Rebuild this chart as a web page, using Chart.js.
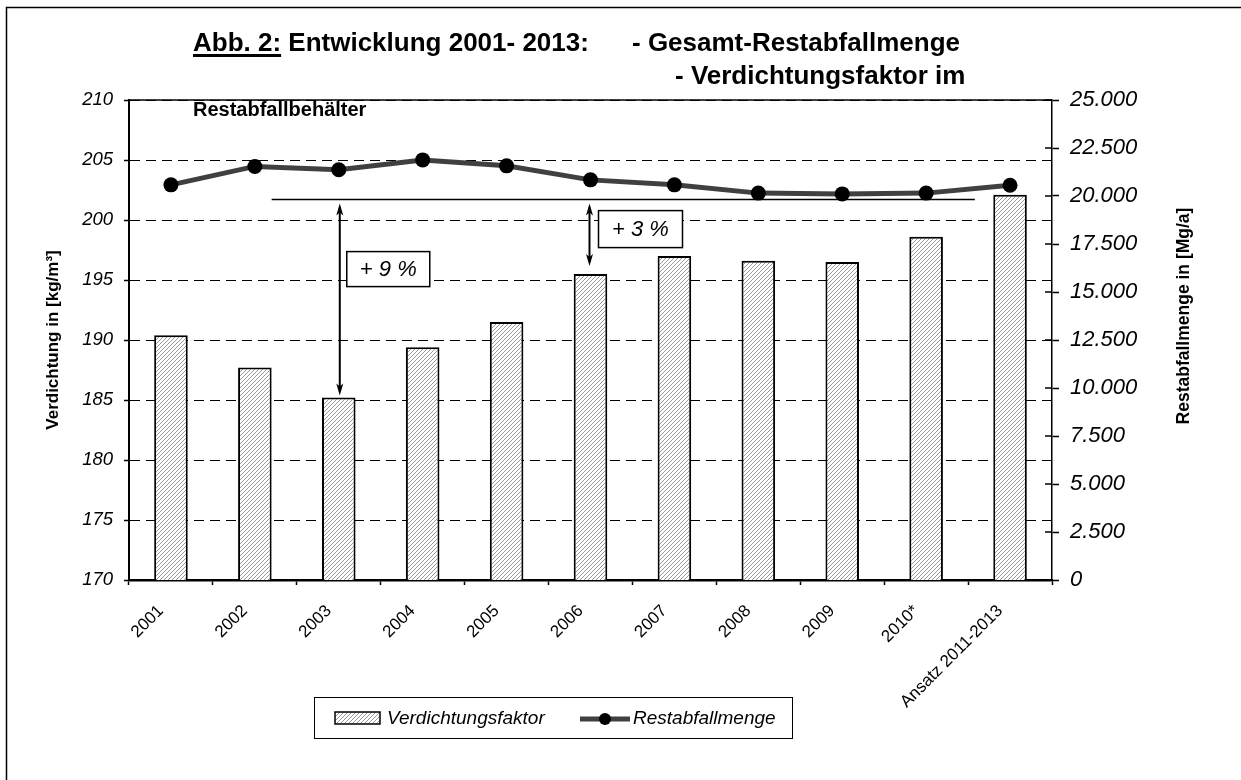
<!DOCTYPE html>
<html>
<head>
<meta charset="utf-8">
<script src="https://cdn.jsdelivr.net/npm/chart.js@4.4.1/dist/chart.umd.min.js"></script>
<style>
  html, body { margin: 0; padding: 0; background: #fff; }
  #wrap { width: 1241px; height: 780px; }
</style>
</head>
<body>
<div id="wrap"><canvas id="chart" width="1241" height="780"></canvas></div>
<script>
const FONT = "'Liberation Sans', Arial, Helvetica, sans-serif"

// categories on the x axis
const years = ['2001', '2002', '2003', '2004', '2005', '2006', '2007', '2008', '2009', '2010*', 'Ansatz 2011-2013']
// Verdichtungsfaktor in kg/m³ (left axis, bars)
const verdichtung = [190.4, 187.7, 185.2, 189.4, 191.5, 195.5, 197.0, 196.6, 196.5, 198.6, 202.1]
// Restabfallmenge in Mg/a (right axis, line)
const restabfall = [20580, 21540, 21370, 21880, 21570, 20840, 20580, 20150, 20110, 20150, 20560]
// axis ranges
const leftRange = [170, 210, 5]
const rightRange = [0, 25000, 2500]
// reference level for the arrows, in kg/m³
const refLevel = 201.7

function deNum(v) {
  return String(v).replace(/\B(?=(\d{3})+(?!\d))/g, '.')
}

// hatch fill like the excel pattern
function makeHatch() {
  const c = document.createElement('canvas')
  c.width = 4; c.height = 4
  const g = c.getContext('2d')
  g.fillStyle = '#fff'
  g.fillRect(0, 0, 4, 4)
  g.strokeStyle = '#9a9a9a'
  g.lineWidth = 1
  g.beginPath()
  g.moveTo(0, 4); g.lineTo(4, 0)
  g.moveTo(-1, 1); g.lineTo(1, -1)
  g.moveTo(3, 5); g.lineTo(5, 3)
  g.stroke()
  return g.createPattern(c, 'repeat')
}
const hatch = makeHatch()

function arrow(ctx, x, y1, y2) {
  const hl = 12, hw = 3.5
  ctx.save()
  ctx.strokeStyle = '#000'
  ctx.fillStyle = '#000'
  ctx.lineWidth = 2
  ctx.beginPath()
  ctx.moveTo(x, y1 + 4); ctx.lineTo(x, y2 - 4)
  ctx.stroke()
  ctx.beginPath()
  ctx.moveTo(x, y1); ctx.lineTo(x - hw, y1 + hl); ctx.lineTo(x, y1 + hl - 3); ctx.lineTo(x + hw, y1 + hl)
  ctx.closePath(); ctx.fill()
  ctx.beginPath()
  ctx.moveTo(x, y2); ctx.lineTo(x - hw, y2 - hl); ctx.lineTo(x, y2 - hl + 3); ctx.lineTo(x + hw, y2 - hl)
  ctx.closePath(); ctx.fill()
  ctx.restore()
}

function labelBox(ctx, x, y, w, h, text) {
  ctx.save()
  ctx.fillStyle = '#fff'
  ctx.fillRect(x, y, w, h)
  ctx.strokeStyle = '#000'
  ctx.lineWidth = 1.5
  ctx.strokeRect(x, y, w, h)
  ctx.fillStyle = '#000'
  ctx.font = 'italic 22px ' + FONT
  ctx.textAlign = 'center'
  ctx.textBaseline = 'middle'
  ctx.fillText(text, x + w / 2, y + h / 2 + 1)
  ctx.restore()
}

const framePlugin = {
  id: 'frame',
  beforeDraw(chart) {
    const ctx = chart.ctx
    ctx.save()
    ctx.fillStyle = '#fff'
    ctx.fillRect(0, 0, chart.width, chart.height)
    ctx.strokeStyle = '#000'
    ctx.lineWidth = 1.5
    ctx.beginPath()
    ctx.moveTo(6.5, chart.height); ctx.lineTo(6.5, 7.5); ctx.lineTo(chart.width, 7.5)
    ctx.stroke()
    ctx.restore()
  },
  afterDraw(chart) {
    const ctx = chart.ctx
    const area = chart.chartArea
    const xs = chart.scales.x, ys = chart.scales.y, y1 = chart.scales.y1

    ctx.save()
    // top border of the plot
    ctx.strokeStyle = '#000'
    ctx.lineWidth = 1.5
    ctx.beginPath()
    ctx.moveTo(area.left, area.top); ctx.lineTo(area.right, area.top)
    ctx.stroke()
    // inner tick marks on the right axis
    ctx.lineWidth = 1.5
    y1.ticks.forEach((t) => {
      const py = y1.getPixelForValue(t.value)
      ctx.beginPath(); ctx.moveTo(area.right - 7, py); ctx.lineTo(area.right, py); ctx.stroke()
    })

    // title
    ctx.fillStyle = '#000'
    ctx.textBaseline = 'alphabetic'
    ctx.textAlign = 'left'
    ctx.font = 'bold 26px ' + FONT
    const abb = 'Abb. 2:'
    ctx.fillText(abb, 193, 51)
    const wAbb = ctx.measureText(abb).width
    ctx.fillRect(193, 54, wAbb, 3)
    ctx.fillText(' Entwicklung 2001- 2013:', 193 + wAbb, 51)
    ctx.fillText('- Gesamt-Restabfallmenge', 632, 51)
    ctx.fillText('- Verdichtungsfaktor im', 675, 84)
    ctx.font = 'bold 20px ' + FONT
    ctx.fillText('Restabfallbehälter', 193, 116)

    // axis titles
    ctx.font = 'bold 17px ' + FONT
    ctx.textAlign = 'center'
    ctx.textBaseline = 'middle'
    ctx.save()
    ctx.translate(53, (area.top + area.bottom) / 2)
    ctx.rotate(-Math.PI / 2)
    ctx.fillText('Verdichtung in [kg/m³]', 0, 0)
    ctx.restore()
    ctx.save()
    ctx.translate(1184, 316)
    ctx.rotate(-Math.PI / 2)
    ctx.font = 'bold 17.5px ' + FONT
    ctx.fillText('Restabfallmenge in [Mg/a]', 0, 0)
    ctx.restore()

    // reference line and arrows
    const cw = xs.getPixelForValue(1) - xs.getPixelForValue(0)
    const ly = ys.getPixelForValue(refLevel)
    ctx.lineWidth = 1.5
    ctx.beginPath()
    ctx.moveTo(xs.getPixelForValue(1) + 0.2 * cw, ly)
    ctx.lineTo(xs.getPixelForValue(9) + 0.58 * cw, ly)
    ctx.stroke()

    const a1 = xs.getPixelForValue(2) + 1
    arrow(ctx, a1, ly + 4, ys.getPixelForValue(verdichtung[2]) - 2)
    labelBox(ctx, a1 + 7, ly + 52, 83, 35, '+ 9 %')
    const a2 = xs.getPixelForValue(5) - 1
    arrow(ctx, a2, ly + 4, ys.getPixelForValue(verdichtung[5]) - 8)
    labelBox(ctx, a2 + 9, ly + 11, 84, 37, '+ 3 %')

    // legend
    ctx.strokeStyle = '#000'
    ctx.lineWidth = 1
    ctx.strokeRect(314.5, 697.5, 478, 41)
    ctx.fillStyle = hatch
    ctx.fillRect(335, 712, 45, 12)
    ctx.lineWidth = 1.5
    ctx.strokeRect(335, 712, 45, 12)
    ctx.fillStyle = '#000'
    ctx.font = 'italic 19px ' + FONT
    ctx.textAlign = 'left'
    ctx.textBaseline = 'middle'
    ctx.fillText('Verdichtungsfaktor', 387, 719)
    ctx.strokeStyle = '#404040'
    ctx.lineWidth = 5
    ctx.beginPath(); ctx.moveTo(580, 719); ctx.lineTo(630, 719); ctx.stroke()
    ctx.beginPath(); ctx.arc(605, 719, 6, 0, Math.PI * 2); ctx.fill()
    ctx.fillText('Restabfallmenge', 633, 719)
    ctx.restore()
  }
}

const chartConfig = {
  type: 'bar',
  data: {
    labels: years,
    datasets: [
      {
        type: 'line',
        label: 'Restabfallmenge',
        data: restabfall,
        yAxisID: 'y1',
        borderColor: '#404040',
        borderWidth: 5,
        pointRadius: 7.5,
        pointBackgroundColor: '#000',
        pointBorderWidth: 0,
        tension: 0,
        order: 1
      },
      {
        type: 'bar',
        label: 'Verdichtungsfaktor',
        data: verdichtung,
        yAxisID: 'y',
        backgroundColor: hatch,
        borderColor: '#000',
        borderWidth: 2,
        barPercentage: 0.4,
        categoryPercentage: 1,
        order: 2
      }
    ]
  },
  options: {
    responsive: false,
    animation: false,
    layout: { padding: { top: 100, left: 0, right: 0, bottom: 0 } },
    plugins: {
      legend: { display: false },
      tooltip: { enabled: false }
    },
    scales: {
      x: {
        offset: true,
        grid: { offset: true, drawOnChartArea: false, tickLength: 5, tickColor: '#000', tickWidth: 1.5 },
        border: { color: '#000', width: 2.5 },
        ticks: {
          color: '#000',
          autoSkip: false,
          minRotation: 45,
          maxRotation: 45,
          padding: 16,
          labelOffset: -10,
          font: { family: FONT, size: 17 }
        },
        afterFit: (s) => { s.height = 200 }
      },
      y: {
        position: 'left',
        min: leftRange[0],
        max: leftRange[1],
        ticks: {
          stepSize: leftRange[2],
          color: '#000',
          padding: 11,
          font: { family: FONT, size: 18.5, style: 'italic' }
        },
        grid: { color: '#000', lineWidth: 1, tickLength: 5, tickColor: '#000', tickWidth: 1.5 },
        border: { color: '#000', width: 2, dash: [10, 6] },
        afterFit: (s) => { s.width = 129 }
      },
      y1: {
        position: 'right',
        min: rightRange[0],
        max: rightRange[1],
        ticks: {
          stepSize: rightRange[2],
          color: '#000',
          padding: 11,
          callback: (v) => deNum(v),
          font: { family: FONT, size: 22, style: 'italic' }
        },
        grid: { drawOnChartArea: false, tickLength: 7, tickColor: '#000', tickWidth: 1.5 },
        border: { color: '#000', width: 1.5 },
        afterFit: (s) => { s.width = 189 }
      }
    }
  },
  plugins: [framePlugin]
}

const chart = new Chart(document.getElementById('chart').getContext('2d'), chartConfig)
</script>
</body>
</html>
